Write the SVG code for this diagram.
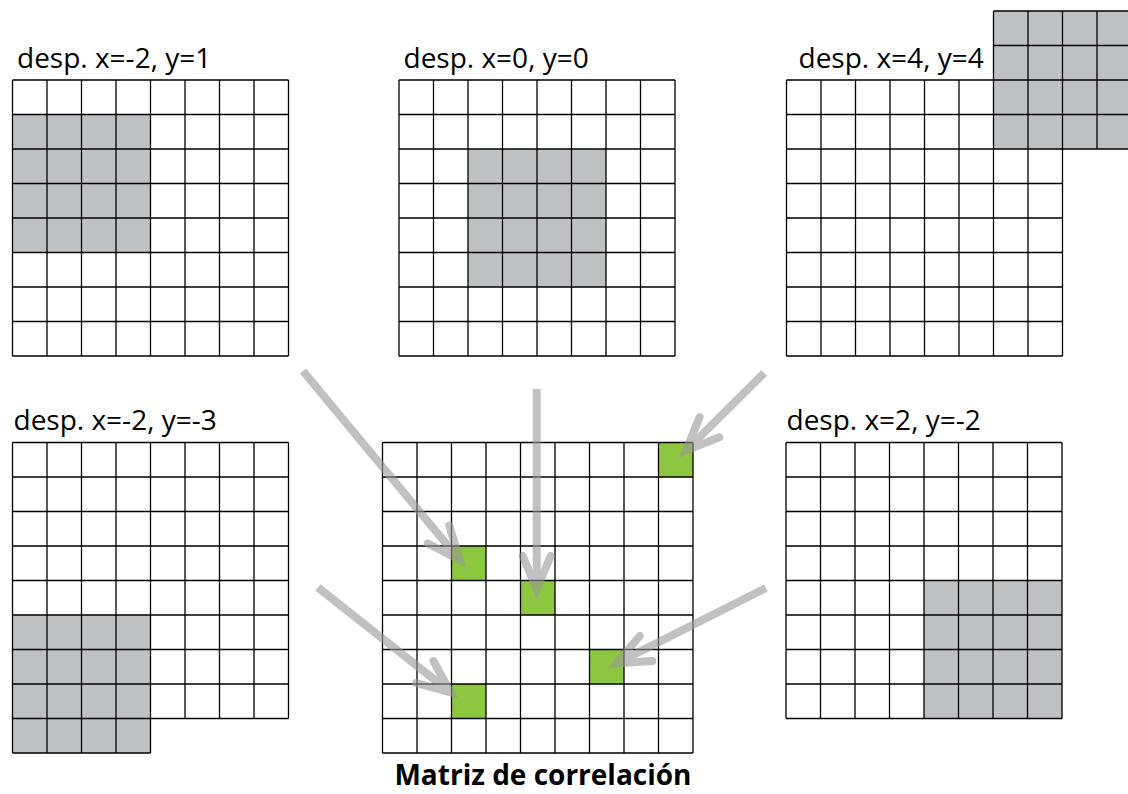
<svg xmlns="http://www.w3.org/2000/svg" width="1128" height="794" viewBox="0 0 1128 794">
<style>
.bg{fill:#fff}
.gray{fill:#bfc0c2}
.green{fill:#8dc63f}
.grid{fill:none;stroke:#000;stroke-width:1.3}
.lbl{font-family:"Open Sans","Liberation Sans",sans-serif;font-size:28px;fill:#000}
.title{font-family:"Open Sans","Liberation Sans",sans-serif;font-size:28px;font-weight:bold;fill:#000}
.arrow{fill:none;stroke:#999;stroke-width:8;marker-end:url(#ah)}
</style>
<defs>
<marker id="ah" markerUnits="userSpaceOnUse" orient="auto" overflow="visible" markerWidth="1" markerHeight="1" refX="0" refY="0">
<path d="M-33,-14 L0,0 L-33,14" fill="none" stroke="#999" stroke-width="8" stroke-linejoin="miter" stroke-linecap="round"/>
</marker>
</defs>
<rect width="1128" height="794" fill="#fff"/>

<g id="grid-x-2-y1">
<text class="lbl" x="17" y="68">desp. x=-2, y=1</text>
<rect class="bg" x="12.5" y="80" width="276" height="276"/>
<rect class="gray" x="12.5" y="114.5" width="138" height="138"/>
<path class="grid" d="M12.5,80V356M47,80V356M81.5,80V356M116,80V356M150.5,80V356M185,80V356M219.5,80V356M254,80V356M288.5,80V356M12.5,80H288.5M12.5,114.5H288.5M12.5,149H288.5M12.5,183.5H288.5M12.5,218H288.5M12.5,252.5H288.5M12.5,287H288.5M12.5,321.5H288.5M12.5,356H288.5"/>
</g>

<g id="grid-x0-y0">
<text class="lbl" x="403.5" y="68">desp. x=0, y=0</text>
<rect class="bg" x="399" y="80" width="276" height="276"/>
<rect class="gray" x="468" y="149" width="138" height="138"/>
<path class="grid" d="M399,80V356M433.5,80V356M468,80V356M502.5,80V356M537,80V356M571.5,80V356M606,80V356M640.5,80V356M675,80V356M399,80H675M399,114.5H675M399,149H675M399,183.5H675M399,218H675M399,252.5H675M399,287H675M399,321.5H675M399,356H675"/>
</g>

<g id="grid-x4-y4">
<text class="lbl" x="798.5" y="68">desp. x=4, y=4</text>
<rect class="bg" x="786.5" y="80" width="276" height="276"/>
<rect class="gray" x="993.5" y="11" width="138" height="138"/>
<path class="grid" d="M786.5,80V356M821,80V356M855.5,80V356M890,80V356M924.5,80V356M959,80V356M993.5,11V356M1028,11V356M1062.5,11V356M1097,11V149M1131.5,11V149M786.5,80H1131.5M786.5,114.5H1131.5M786.5,149H1131.5M786.5,183.5H1062.5M786.5,218H1062.5M786.5,252.5H1062.5M786.5,287H1062.5M786.5,321.5H1062.5M786.5,356H1062.5M993.5,11H1131.5M993.5,45.5H1131.5"/>
</g>

<g id="grid-x-2-y-3">
<text class="lbl" x="13.5" y="430">desp. x=-2, y=-3</text>
<rect class="bg" x="12.5" y="442.5" width="276" height="276"/>
<rect class="gray" x="12.5" y="615" width="138" height="138"/>
<path class="grid" d="M12.5,442.5V753M47,442.5V753M81.5,442.5V753M116,442.5V753M150.5,442.5V753M185,442.5V718.5M219.5,442.5V718.5M254,442.5V718.5M288.5,442.5V718.5M12.5,442.5H288.5M12.5,477H288.5M12.5,511.5H288.5M12.5,546H288.5M12.5,580.5H288.5M12.5,615H288.5M12.5,649.5H288.5M12.5,684H288.5M12.5,718.5H288.5M12.5,753H150.5"/>
</g>

<g id="correlation-matrix">
<rect class="bg" x="382.5" y="442.5" width="310.5" height="310.5"/>
<rect class="green" x="658.5" y="442.5" width="34.5" height="34.5"/>
<rect class="green" x="451.5" y="546" width="34.5" height="34.5"/>
<rect class="green" x="520.5" y="580.5" width="34.5" height="34.5"/>
<rect class="green" x="589.5" y="649.5" width="34.5" height="34.5"/>
<rect class="green" x="451.5" y="684" width="34.5" height="34.5"/>
<path class="grid" d="M382.5,442.5V753M417,442.5V753M451.5,442.5V753M486,442.5V753M520.5,442.5V753M555,442.5V753M589.5,442.5V753M624,442.5V753M658.5,442.5V753M693,442.5V753M382.5,442.5H693M382.5,477H693M382.5,511.5H693M382.5,546H693M382.5,580.5H693M382.5,615H693M382.5,649.5H693M382.5,684H693M382.5,718.5H693M382.5,753H693"/>
<text class="title" x="543" y="785" text-anchor="middle">Matriz de correlación</text>
</g>

<g id="grid-x2-y-2">
<text class="lbl" x="786.5" y="430">desp. x=2, y=-2</text>
<rect class="bg" x="786" y="442.5" width="276" height="276"/>
<rect class="gray" x="924" y="580.5" width="138" height="138"/>
<path class="grid" d="M786,442.5V718.5M820.5,442.5V718.5M855,442.5V718.5M889.5,442.5V718.5M924,442.5V718.5M958.5,442.5V718.5M993,442.5V718.5M1027.5,442.5V718.5M1062,442.5V718.5M786,442.5H1062M786,477H1062M786,511.5H1062M786,546H1062M786,580.5H1062M786,615H1062M786,649.5H1062M786,684H1062M786,718.5H1062"/>
</g>

<g id="connectors" opacity="0.6">
<path class="arrow" d="M303,371 L459.6,559.9"/>
<path class="arrow" d="M536.7,389 L536.7,589"/>
<path class="arrow" d="M764,373 L686,450.5"/>
<path class="arrow" d="M318,587.5 L450.7,692.5"/>
<path class="arrow" d="M766,588 L616.5,663.4"/>
</g>
</svg>
